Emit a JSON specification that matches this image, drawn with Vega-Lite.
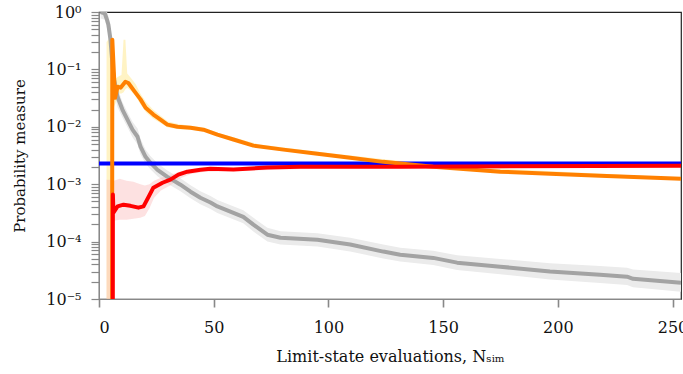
{
  "$schema": "https://vega.github.io/schema/vega-lite/v6.json",
  "width": 582,
  "height": 287,
  "autosize": {"type": "none"},
  "padding": {"left": 99, "top": 12, "right": 2, "bottom": 75},
  "config": {
    "font": "DejaVu Serif",
    "view": {"stroke": "#222", "strokeWidth": 1.2},
    "axis": {
      "grid": false,
      "labelFont": "DejaVu Serif",
      "titleFont": "DejaVu Serif",
      "labelFontSize": 16,
      "titleFontSize": 15,
      "titleFontWeight": "normal",
      "labelColor": "#111",
      "titleColor": "#111"
    }
  },
  "resolve": {"axis": {"x": "independent", "y": "independent"}},
  "datasets": {
    "gray": [
      {"x": 0.7, "y": 1.0, "lo": 0.77, "hi": 1.3},
      {"x": 2.5, "y": 0.95, "lo": 0.73, "hi": 1.24},
      {"x": 3.5, "y": 0.73, "lo": 0.52, "hi": 1.0},
      {"x": 4.1, "y": 0.6, "lo": 0.4, "hi": 0.85},
      {"x": 5.0, "y": 0.33, "lo": 0.2, "hi": 0.5},
      {"x": 6.3, "y": 0.075, "lo": 0.045, "hi": 0.13},
      {"x": 8.1, "y": 0.033, "lo": 0.022, "hi": 0.048},
      {"x": 10.2, "y": 0.02, "lo": 0.0145, "hi": 0.027},
      {"x": 12.4, "y": 0.0133, "lo": 0.0098, "hi": 0.018},
      {"x": 14.6, "y": 0.0089, "lo": 0.0066, "hi": 0.0122},
      {"x": 16.8, "y": 0.0067, "lo": 0.0049, "hi": 0.0093},
      {"x": 18.1, "y": 0.0045, "lo": 0.0033, "hi": 0.0062},
      {"x": 20.3, "y": 0.003, "lo": 0.0023, "hi": 0.004},
      {"x": 22.4, "y": 0.00237, "lo": 0.00182, "hi": 0.0031},
      {"x": 25.5, "y": 0.00178, "lo": 0.00137, "hi": 0.00231},
      {"x": 29.8, "y": 0.00134, "lo": 0.00103, "hi": 0.00174},
      {"x": 35.5, "y": 0.00098, "lo": 0.00075, "hi": 0.00127},
      {"x": 39.9, "y": 0.00074, "lo": 0.00057, "hi": 0.00096},
      {"x": 44.2, "y": 0.00058, "lo": 0.000446, "hi": 0.000754},
      {"x": 48.6, "y": 0.00048, "lo": 0.00037, "hi": 0.00062},
      {"x": 51.6, "y": 0.00041, "lo": 0.000315, "hi": 0.00053},
      {"x": 62.9, "y": 0.00027, "lo": 0.000208, "hi": 0.00035},
      {"x": 67.3, "y": 0.000197, "lo": 0.00015, "hi": 0.00026},
      {"x": 73.4, "y": 0.000132, "lo": 0.0001, "hi": 0.000175},
      {"x": 79.1, "y": 0.000117, "lo": 0.000089, "hi": 0.000152},
      {"x": 95.2, "y": 0.000108, "lo": 0.000082, "hi": 0.00014},
      {"x": 109.5, "y": 0.000089, "lo": 0.000067, "hi": 0.000117},
      {"x": 123.9, "y": 0.000067, "lo": 0.000051, "hi": 0.000089},
      {"x": 131.3, "y": 0.000059, "lo": 0.000045, "hi": 0.000078},
      {"x": 145.7, "y": 0.000052, "lo": 0.000039, "hi": 0.000069},
      {"x": 156.1, "y": 0.000043, "lo": 0.000032, "hi": 0.000058},
      {"x": 174.9, "y": 0.0000366, "lo": 0.000027, "hi": 0.00005},
      {"x": 196.6, "y": 0.00003, "lo": 0.0000218, "hi": 0.000042},
      {"x": 218.4, "y": 0.0000265, "lo": 0.000019, "hi": 0.0000375},
      {"x": 230.2, "y": 0.0000245, "lo": 0.0000175, "hi": 0.000035},
      {"x": 232.8, "y": 0.0000225, "lo": 0.000016, "hi": 0.0000325},
      {"x": 253.7, "y": 0.0000192, "lo": 0.0000134, "hi": 0.0000285}
    ],
    "orange": [
      {"x": 5.7, "y": 0.000001},
      {"x": 5.8, "y": 0.33},
      {"x": 7.0, "y": 0.032},
      {"x": 8.1, "y": 0.05},
      {"x": 9.4, "y": 0.048},
      {"x": 11.5, "y": 0.061},
      {"x": 12.8, "y": 0.058},
      {"x": 15.0, "y": 0.044},
      {"x": 18.1, "y": 0.03},
      {"x": 20.3, "y": 0.0215},
      {"x": 23.7, "y": 0.0163},
      {"x": 26.8, "y": 0.0133},
      {"x": 29.8, "y": 0.0109},
      {"x": 34.2, "y": 0.01},
      {"x": 39.9, "y": 0.0096},
      {"x": 45.5, "y": 0.0089},
      {"x": 51.6, "y": 0.0073},
      {"x": 58.6, "y": 0.006},
      {"x": 67.3, "y": 0.0047},
      {"x": 80.4, "y": 0.004},
      {"x": 95.2, "y": 0.0034},
      {"x": 109.5, "y": 0.0029},
      {"x": 123.9, "y": 0.00245},
      {"x": 131.3, "y": 0.0023},
      {"x": 145.7, "y": 0.00202},
      {"x": 174.9, "y": 0.00165},
      {"x": 196.6, "y": 0.00152},
      {"x": 218.4, "y": 0.00141},
      {"x": 253.7, "y": 0.00125}
    ],
    "orangeBand": [
      {"x": 3.3, "lo": 0.000001, "hi": 0.3},
      {"x": 5.5, "lo": 0.000001, "hi": 0.4},
      {"x": 6.5, "lo": 0.022, "hi": 0.12},
      {"x": 7.5, "lo": 0.028, "hi": 0.07},
      {"x": 8.5, "lo": 0.038, "hi": 0.075},
      {"x": 9.8, "lo": 0.038, "hi": 0.08},
      {"x": 10.7, "lo": 0.04, "hi": 0.33},
      {"x": 11.5, "lo": 0.045, "hi": 0.33},
      {"x": 12.3, "lo": 0.048, "hi": 0.085},
      {"x": 14, "lo": 0.042, "hi": 0.07},
      {"x": 16, "lo": 0.034, "hi": 0.055},
      {"x": 18, "lo": 0.025, "hi": 0.038},
      {"x": 20.5, "lo": 0.018, "hi": 0.027},
      {"x": 23.5, "lo": 0.014, "hi": 0.02},
      {"x": 27, "lo": 0.0115, "hi": 0.0155},
      {"x": 30, "lo": 0.0097, "hi": 0.0124},
      {"x": 35, "lo": 0.0091, "hi": 0.0111},
      {"x": 40, "lo": 0.0089, "hi": 0.0104},
      {"x": 46, "lo": 0.0083, "hi": 0.0096},
      {"x": 52, "lo": 0.0069, "hi": 0.0078},
      {"x": 60, "lo": 0.0057, "hi": 0.0063},
      {"x": 70, "lo": 0.0044, "hi": 0.0049},
      {"x": 100, "lo": 0.0032, "hi": 0.0035},
      {"x": 150, "lo": 0.0019, "hi": 0.0021},
      {"x": 253.7, "lo": 0.0012, "hi": 0.0013}
    ],
    "red": [
      {"x": 6.0, "y": 0.000001},
      {"x": 6.05, "y": 0.00066},
      {"x": 6.3, "y": 0.00032},
      {"x": 8.1, "y": 0.00041},
      {"x": 10.7, "y": 0.00044},
      {"x": 13.7, "y": 0.00042},
      {"x": 17.2, "y": 0.00039},
      {"x": 19.4, "y": 0.00041},
      {"x": 21.6, "y": 0.0006},
      {"x": 23.7, "y": 0.00087},
      {"x": 27.7, "y": 0.00106},
      {"x": 31.1, "y": 0.0012},
      {"x": 34.6, "y": 0.00147},
      {"x": 38.5, "y": 0.00165},
      {"x": 44.2, "y": 0.00178},
      {"x": 48.6, "y": 0.00186},
      {"x": 58.6, "y": 0.0018},
      {"x": 73.4, "y": 0.00195},
      {"x": 87.7, "y": 0.00202},
      {"x": 131.3, "y": 0.00202},
      {"x": 253.7, "y": 0.0021}
    ],
    "redBand": [
      {"x": 3.3, "lo": 0.000001, "hi": 0.0012},
      {"x": 5.9, "lo": 0.000001, "hi": 0.0012},
      {"x": 6.5, "lo": 0.00023, "hi": 0.00115},
      {"x": 9, "lo": 0.00024, "hi": 0.00125},
      {"x": 12, "lo": 0.00024, "hi": 0.00115},
      {"x": 15, "lo": 0.00025, "hi": 0.0011},
      {"x": 18, "lo": 0.00026, "hi": 0.001},
      {"x": 20, "lo": 0.00028, "hi": 0.00095},
      {"x": 22, "lo": 0.00038, "hi": 0.001},
      {"x": 24, "lo": 0.00058, "hi": 0.00115},
      {"x": 27, "lo": 0.00078, "hi": 0.0013},
      {"x": 31, "lo": 0.00095, "hi": 0.00145},
      {"x": 35, "lo": 0.00125, "hi": 0.00165},
      {"x": 40, "lo": 0.0015, "hi": 0.0018},
      {"x": 46, "lo": 0.00165, "hi": 0.0019},
      {"x": 60, "lo": 0.0017, "hi": 0.0019},
      {"x": 100, "lo": 0.00192, "hi": 0.0021},
      {"x": 253.7, "lo": 0.002, "hi": 0.0022}
    ],
    "blue": [
      {"x": 0, "y": 0.0023},
      {"x": 253.7, "y": 0.0023}
    ]
  },
  "layer": [
    {
      "data": {"name": "gray"},
      "mark": {"type": "area", "color": "#ebebeb", "clip": true},
      "encoding": {
        "x": {"field": "x", "type": "quantitative", "axis": null},
        "y": {"field": "lo", "type": "quantitative", "axis": null},
        "y2": {"field": "hi"}
      }
    },
    {
      "data": {"name": "orangeBand"},
      "mark": {"type": "area", "color": "#ffe88a", "opacity": 0.5, "clip": true},
      "encoding": {
        "x": {"field": "x", "type": "quantitative", "axis": null},
        "y": {"field": "lo", "type": "quantitative", "axis": null},
        "y2": {"field": "hi"}
      }
    },
    {
      "data": {"name": "redBand"},
      "mark": {"type": "area", "color": "#f9b5b5", "opacity": 0.4, "clip": true},
      "encoding": {
        "x": {"field": "x", "type": "quantitative", "axis": null},
        "y": {"field": "lo", "type": "quantitative", "axis": null},
        "y2": {"field": "hi"}
      }
    },
    {
      "data": {"name": "gray"},
      "mark": {"type": "line", "color": "#a3a3a3", "strokeWidth": 4, "clip": true, "strokeJoin": "round"},
      "encoding": {
        "x": {"field": "x", "type": "quantitative", "axis": null},
        "y": {"field": "y", "type": "quantitative", "axis": null}
      }
    },
    {
      "data": {"name": "blue"},
      "mark": {"type": "line", "color": "#0000ff", "strokeWidth": 4, "clip": true},
      "encoding": {
        "x": {"field": "x", "type": "quantitative", "title": "Limit-state evaluations, Nₛᵢₘ", "scale": {"domain": [0, 253.7], "nice": false, "zero": false},
          "axis": {"values": [0, 50, 100, 150, 200, 250], "tickSize": 8, "tickWidth": 1.6, "labelPadding": 12, "titleFontSize": 16, "titlePadding": 13}},
        "y": {"field": "y", "type": "quantitative", "title": "Probability measure", "scale": {"type": "log", "domain": [0.00001, 1], "nice": false},
          "axis": {
            "titlePadding": 18,
            "values": [1, 0.9, 0.8, 0.7, 0.6, 0.5, 0.4, 0.3, 0.2, 0.1, 0.09, 0.08, 0.07, 0.06, 0.05, 0.04, 0.03, 0.02, 0.01, 0.009, 0.008, 0.007, 0.006, 0.005, 0.004, 0.003, 0.002, 0.001, 0.0009, 0.0008, 0.0007, 0.0006, 0.0005, 0.0004, 0.0003, 0.0002, 0.0001, 0.00009, 0.00008, 0.00007, 0.00006, 0.00005, 0.00004, 0.00003, 0.00002, 0.00001],
            "tickSize": 8,
            "tickWidth": 1.2,
            "labelExpr": "abs(log(datum.value)/LN10 - round(log(datum.value)/LN10)) < 0.001 ? '10' + ['⁰','⁻¹','⁻²','⁻³','⁻⁴','⁻⁵'][-round(log(datum.value)/LN10)] : ''",
            "labelOverlap": false,
            "labelPadding": 10
          }}
      }
    },
    {
      "data": {"name": "orange"},
      "mark": {"type": "line", "color": "#ff8000", "strokeWidth": 4, "clip": true, "strokeJoin": "round"},
      "encoding": {
        "x": {"field": "x", "type": "quantitative", "axis": null},
        "y": {"field": "y", "type": "quantitative", "axis": null}
      }
    },
    {
      "data": {"name": "red"},
      "mark": {"type": "line", "color": "#ff0000", "strokeWidth": 4, "clip": true, "strokeJoin": "round"},
      "encoding": {
        "x": {"field": "x", "type": "quantitative", "axis": null},
        "y": {"field": "y", "type": "quantitative", "axis": null}
      }
    }
  ]
}
